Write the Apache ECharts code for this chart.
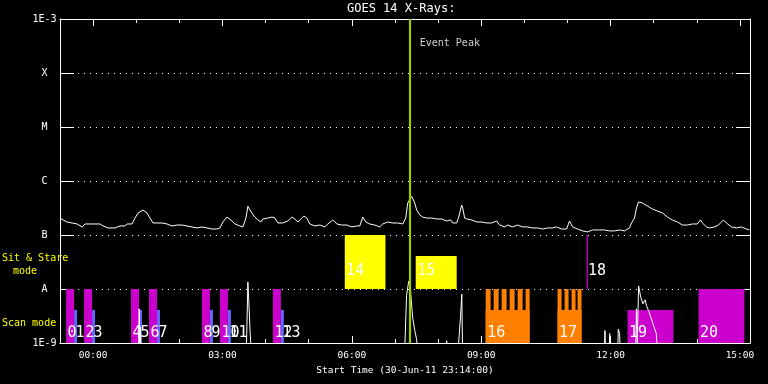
<!DOCTYPE html>
<html><head><meta charset="utf-8">
<script src="https://cdn.jsdelivr.net/npm/echarts@6/dist/echarts.min.js"></script>
<style>html,body{margin:0;padding:0;background:#000}#c{width:768px;height:384px}</style>
</head><body><div id="c"></div>
<script>
// Time in hours relative to 01-Jul-11 00:00 (plot starts 30-Jun-11 23:14)
const goesTime=[-0.766,-0.695,-0.602,-0.486,-0.371,-0.255,-0.185,-0.069,0.046,0.162,0.232,0.347,0.510,0.625,0.741,0.788,0.903,0.973,1.042,1.158,1.251,1.320,1.390,1.483,1.598,1.714,1.830,1.946,2.062,2.177,2.293,2.409,2.525,2.641,2.757,2.872,2.942,3.011,3.104,3.220,3.290,3.405,3.475,3.544,3.590,3.683,3.753,3.822,3.892,3.938,4.054,4.146,4.216,4.285,4.401,4.517,4.610,4.679,4.749,4.841,4.888,4.957,5.027,5.143,5.258,5.374,5.444,5.559,5.652,5.768,5.884,5.999,6.115,6.185,6.254,6.324,6.416,6.532,6.648,6.718,6.833,6.949,7.065,7.181,7.250,7.297,7.389,7.459,7.505,7.575,7.644,7.737,7.853,7.969,8.084,8.200,8.293,8.339,8.432,8.478,8.548,8.571,8.617,8.664,8.779,8.895,9.011,9.127,9.242,9.358,9.428,9.544,9.613,9.729,9.845,9.961,10.076,10.192,10.308,10.424,10.540,10.655,10.748,10.864,10.980,11.049,11.119,11.235,11.350,11.466,11.582,11.744,11.860,11.976,12.092,12.207,12.323,12.439,12.486,12.555,12.601,12.648,12.740,12.856,12.972,13.088,13.204,13.319,13.435,13.551,13.667,13.783,13.898,14.014,14.084,14.130,14.223,14.292,14.408,14.501,14.617,14.686,14.802,14.918,15.034,15.150,15.219];
// GOES long channel flux in units of 1e-7 W/m^2 (B-class)
const goesB=[2.05,1.90,1.74,1.67,1.60,1.41,1.60,1.60,1.60,1.60,1.47,1.35,1.35,1.47,1.47,1.60,1.60,2.06,2.55,2.90,2.55,2.06,1.67,1.67,1.67,1.60,1.47,1.53,1.53,1.47,1.41,1.35,1.41,1.35,1.29,1.29,1.35,1.74,2.15,1.82,1.60,1.47,1.41,2.06,3.40,2.55,2.15,1.90,1.74,1.98,2.06,2.15,2.06,1.67,1.67,1.82,2.15,1.98,1.74,2.06,2.25,2.06,1.60,1.47,1.53,1.41,1.60,1.90,1.60,1.53,1.53,1.41,1.47,1.47,2.15,1.74,1.60,1.53,1.41,1.60,1.74,1.67,1.67,1.60,2.06,3.91,5.20,3.91,2.90,2.35,2.15,2.06,2.06,1.98,1.98,1.82,1.90,1.67,1.67,2.15,3.59,3.16,2.06,1.98,1.90,1.74,1.74,1.67,1.67,1.82,1.53,1.41,1.53,1.41,1.53,1.41,1.41,1.35,1.35,1.29,1.35,1.35,1.41,1.29,1.29,1.82,1.41,1.29,1.19,1.14,1.24,1.24,1.24,1.19,1.19,1.24,1.19,1.35,1.67,2.06,3.16,4.08,3.91,3.44,3.03,2.78,2.55,2.15,1.90,1.74,1.53,1.53,1.60,1.60,1.90,1.67,1.41,1.35,1.41,1.53,1.90,1.67,1.41,1.35,1.41,1.29,1.24];
// GOES short channel flux in units of 1e-9 W/m^2 (mostly below the plot floor)
const shortTime=[-0.766,1.05,1.07,1.08,1.10,1.11,3.55,3.59,3.61,3.64,3.68,7.22,7.27,7.32,7.36,7.41,7.46,7.50,7.55,8.18,8.20,8.22,8.45,8.52,8.55,8.57,11.85,11.87,11.89,11.96,11.98,12.00,12.16,12.18,12.21,12.23,12.58,12.60,12.62,12.65,12.70,12.75,12.80,12.83,12.90,12.98,13.06,13.10,15.23];
const shortFlux=[0.5,0.5,4.3,0.5,2.0,0.5,0.5,13.5,6.3,1.7,0.5,0.5,7.7,14.0,9.6,3.0,1.7,1.2,0.5,0.5,1.1,0.5,0.5,3.0,8.0,0.5,0.5,1.7,0.5,0.5,1.5,0.5,0.5,1.8,1.5,0.5,0.5,4.3,1.0,11.4,7.0,5.3,6.3,5.0,3.6,2.3,1.5,0.5,0.5];

// Observation timeline
const obsIds=['0','1','2','3','4','5','6','7','8','9','10','11','12','13','14','15','16','17','18','19','20'];
const obsStart=[-0.625,-0.440,-0.208,-0.023,0.880,1.066,1.297,1.483,2.525,2.710,2.942,3.127,4.170,4.355,5.837,7.482,9.104,10.771,11.443,12.393,14.040];
const obsEnd=[-0.440,-0.371,-0.023,0.046,1.066,1.135,1.483,1.552,2.710,2.780,3.127,3.197,4.355,4.424,6.780,8.432,10.123,11.327,11.455,13.458,15.104];
const obsLow=[1e-9,1e-9,1e-9,1e-9,1e-9,1e-9,1e-9,1e-9,1e-9,1e-9,1e-9,1e-9,1e-9,1e-9,1e-8,1e-8,1e-9,1e-9,1e-8,1e-9,1e-9];
const obsHigh=[1e-8,4.1e-9,1e-8,4.1e-9,1e-8,4.1e-9,1e-8,4.1e-9,1e-8,4.1e-9,1e-8,4.1e-9,1e-8,4.1e-9,1e-7,4.1e-8,4.1e-9,4.1e-9,1e-7,4.1e-9,1e-8];
const obsKind=['m','b','m','b','m','b','m','b','m','b','m','b','m','b','y','y','o','o','m','m','m'];
// tall exposures inside observations 16 and 17
const combStart=[9.104,9.289,9.474,9.660,9.845,10.030,10.771,10.934,11.096,11.234];
const combEnd=[9.219,9.405,9.590,9.776,9.961,10.123,10.864,11.026,11.188,11.327];

const eventPeakHour=7.343;
const hourTicks=[0,1,2,3,4,5,6,7,8,9,10,11,12,13,14,15];
const hourLabels=[0,3,6,9,12,15];
const yDecades=[1e-9,1e-8,1e-7,1e-6,1e-5,1e-4,1e-3];
const yLabels=['1E-9','A','B','C','M','X','1E-3'];

const MONO='"DejaVu Sans Mono", "Liberation Mono", monospace';
const colorMap={m:'#cc00cc',b:'#6666ff',y:'#ffff00',o:'#ff8000'};
const xMin=-46/60, xMax=15+14/60;

function renderObs(params, api){
  const s=api.value(0), e=api.value(1), lo=api.value(2), hi=api.value(3), idx=api.value(4);
  const p0=api.coord([s,hi]), p1=api.coord([e,lo]);
  const w=Math.max(p1[0]-p0[0],1.3);
  const kind= idx>=0 ? obsKind[idx] : 'o';
  const children=[{type:'rect',shape:{x:p0[0],y:p0[1],width:w,height:p1[1]-p0[1]},style:{fill:colorMap[kind]}}];
  if(idx>=0){
    const sit = lo>=1e-8;
    const base = api.coord([s,sit?1e-8:1e-9])[1];
    children.push({type:'text',z2:10,style:{text:obsIds[idx],x:p0[0]+1.5,y:base-(sit?18:10),fill:'#fff',font:'15px '+MONO,align:'left',verticalAlign:'middle'}});
  }
  return {type:'group',children};
}

const obsData=combStart.map((s,i)=>[s,combEnd[i],1e-9,1e-8,-1])
  .concat(obsStart.map((s,i)=>[s,obsEnd[i],obsLow[i],obsHigh[i],i]));

function xAxisDef(pos,ticks,len,showLine,showLabel){
  return {type:'value',min:xMin,max:xMax,position:pos,gridIndex:0,
    axisLine:{show:showLine,onZero:false,lineStyle:{color:'#fff',width:1}},
    axisTick:{show:true,inside:true,length:len,customValues:ticks,lineStyle:{color:'#fff',width:1}},
    axisLabel:{show:showLabel,customValues:hourLabels,color:'#fff',fontFamily:MONO,fontSize:9.5,margin:8,
      formatter:v=>String(Math.round(v)).padStart(2,'0')+':00'},
    splitLine:{show:false},
    name:showLabel?'Start Time (30-Jun-11 23:14:00)':'',nameLocation:'middle',nameGap:20,
    nameTextStyle:{color:'#fff',fontFamily:MONO,fontSize:9.5}};
}

const chart=echarts.init(document.getElementById('c'),null,{renderer:'canvas'});
chart.setOption({
  backgroundColor:'#000',
  animation:false,
  title:{text:'GOES 14 X-Rays:',left:347,top:3,padding:0,textStyle:{color:'#fff',fontSize:12,fontWeight:'normal',fontFamily:MONO}},
  grid:{left:60,right:18,top:19,bottom:41,containLabel:false},
  xAxis:[xAxisDef('bottom',hourTicks,4,true,true),xAxisDef('bottom',hourLabels,7,false,false),
         xAxisDef('top',hourTicks,4,true,false),xAxisDef('top',hourLabels,7,false,false)],
  yAxis:[
    {type:'log',logBase:10,min:1e-9,max:1e-3,position:'left',
      axisLine:{show:true,onZero:false,lineStyle:{color:'#fff',width:1}},
      axisTick:{show:true,inside:true,length:14,customValues:yDecades,lineStyle:{color:'#fff',width:1}},
      axisLabel:{show:true,customValues:yDecades,color:'#fff',fontFamily:MONO,fontSize:10,align:'center',margin:15.5,
        formatter:v=>yLabels[Math.round(Math.log10(v))+9]},
      splitLine:{show:true,lineStyle:{color:'#fff',width:1,type:[1,5]}},
      minorTick:{show:false},minorSplitLine:{show:false}},
    {type:'log',logBase:10,min:1e-9,max:1e-3,position:'right',
      axisLine:{show:true,onZero:false,lineStyle:{color:'#fff',width:1}},
      axisTick:{show:true,inside:true,length:14,customValues:yDecades,lineStyle:{color:'#fff',width:1}},
      axisLabel:{show:false},splitLine:{show:false}}
  ],
  graphic:[
    {type:'text',left:2,top:253,style:{text:'Sit & Stare',fill:'#ffff00',font:'10px '+MONO}},
    {type:'text',left:13,top:266,style:{text:'mode',fill:'#ffff00',font:'10px '+MONO}},
    {type:'text',left:2,top:318,style:{text:'Scan mode',fill:'#ffff00',font:'10px '+MONO}}
  ],
  series:[
    {type:'custom',renderItem:renderObs,data:obsData,encode:{x:[0,1],y:[2,3]},clip:true,z:2,silent:true},
    {type:'line',data:shortTime.map((t,i)=>[t,shortFlux[i]*1e-9]),showSymbol:false,symbol:'none',
      lineStyle:{color:'#fff',width:1},clip:true,z:3,silent:true},
    {type:'line',data:goesTime.map((t,i)=>[t,goesB[i]*1e-7]),showSymbol:false,symbol:'none',
      lineStyle:{color:'#fff',width:1},clip:true,z:3,silent:true,
      markLine:{silent:true,symbol:['none','none'],label:{show:false},
        lineStyle:{color:'#9acd00',width:2.2,type:'solid'},data:[{xAxis:eventPeakHour}]}},
    {type:'scatter',data:[[eventPeakHour,3.6e-4]],symbolSize:0,z:4,silent:true,
      label:{show:true,position:'right',distance:10,formatter:'Event Peak',color:'#fff',fontFamily:MONO,fontSize:10}}
  ]
});
</script></body></html>
